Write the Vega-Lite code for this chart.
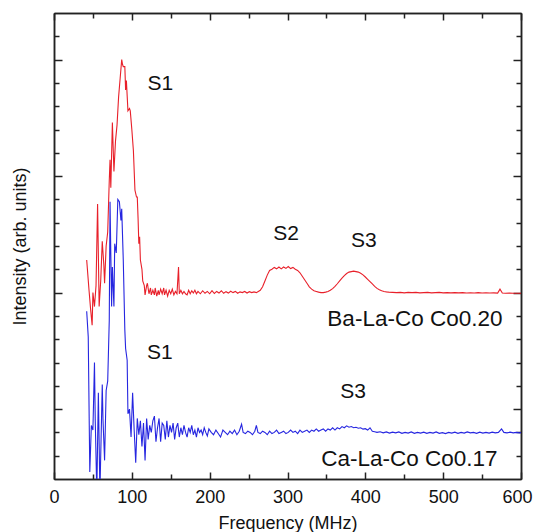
{
  "$schema": "https://vega.github.io/schema/vega-lite/v6.json",
  "width": 467,
  "height": 466,
  "autosize": "none",
  "padding": {"left": 54, "top": 13, "right": 13, "bottom": 53},
  "config": {
    "view": {"stroke": null},
    "font": "Liberation Sans",
    "axis": {
      "grid": false,
      "domainColor": "#222",
      "tickColor": "#222",
      "labelColor": "#111",
      "titleColor": "#111",
      "labelFont": "Liberation Sans",
      "titleFont": "Liberation Sans",
      "titleFontWeight": "normal",
      "labelFontSize": 18,
      "titleFontSize": 18,
      "domainWidth": 1.5,
      "tickWidth": 1.5
    }
  },
  "datasets": {
    "red": [
      {"f":42,"v":6.4},{"f":45,"v":5.1},{"f":47,"v":4.3},{"f":49,"v":3.6},{"f":50,"v":5.0},{"f":52,"v":4.4},{"f":54,"v":5.3},{"f":56,"v":8.8},{"f":58,"v":4.4},{"f":60,"v":5.5},{"f":62,"v":7.2},{"f":64,"v":6.2},{"f":65,"v":5.4},{"f":67,"v":7.0},{"f":69,"v":7.6},{"f":71,"v":9.8},{"f":72,"v":10.7},{"f":73,"v":9.5},{"f":75,"v":12.3},{"f":77,"v":10.2},{"f":79,"v":11.5},{"f":81,"v":12.2},{"f":83,"v":13.4},{"f":85,"v":14.2},{"f":87,"v":15.0},{"f":88,"v":14.8},{"f":89,"v":14.7},{"f":91,"v":14.7},{"f":92,"v":13.7},{"f":93,"v":14.1},{"f":95,"v":12.8},{"f":97,"v":12.9},{"f":98,"v":12.8},{"f":100,"v":12.0},{"f":102,"v":11.1},{"f":104,"v":9.4},{"f":106,"v":9.1},{"f":107,"v":9.1},{"f":108,"v":8.2},{"f":109,"v":7.1},{"f":110,"v":7.4},{"f":111,"v":6.4},{"f":113,"v":6.0},{"f":114,"v":5.5},{"f":116,"v":5.3},{"f":117,"v":4.9},{"f":119,"v":5.3},{"f":120,"v":5.4},{"f":122,"v":4.95},{"f":124,"v":5.2},{"f":125,"v":4.9},{"f":127,"v":5.1},{"f":129,"v":4.9},{"f":130,"v":5.2},{"f":132,"v":4.85},{"f":134,"v":5.1},{"f":135,"v":4.9},{"f":137,"v":5.15},{"f":139,"v":4.95},{"f":141,"v":5.2},{"f":142,"v":4.9},{"f":144,"v":5.1},{"f":146,"v":4.85},{"f":148,"v":5.1},{"f":150,"v":4.95},{"f":152,"v":5.15},{"f":154,"v":4.9},{"f":156,"v":5.05},{"f":158,"v":4.95},{"f":160,"v":6.1},{"f":161,"v":4.95},{"f":163,"v":5.1},{"f":165,"v":4.95},{"f":167,"v":5.05},{"f":169,"v":4.95},{"f":171,"v":4.9},{"f":173,"v":5.1},{"f":175,"v":4.95},{"f":177,"v":5.08},{"f":179,"v":4.98},{"f":181,"v":5.1},{"f":183,"v":4.95},{"f":185,"v":5.05},{"f":188,"v":4.95},{"f":191,"v":5.08},{"f":194,"v":4.97},{"f":197,"v":5.05},{"f":200,"v":4.95},{"f":203,"v":5.08},{"f":206,"v":4.96},{"f":209,"v":5.05},{"f":212,"v":4.98},{"f":215,"v":5.08},{"f":218,"v":4.97},{"f":221,"v":5.04},{"f":224,"v":4.98},{"f":227,"v":5.06},{"f":230,"v":5.0},{"f":233,"v":5.05},{"f":236,"v":4.97},{"f":239,"v":5.03},{"f":242,"v":5.0},{"f":245,"v":5.05},{"f":248,"v":4.98},{"f":251,"v":5.04},{"f":254,"v":5.0},{"f":257,"v":5.03},{"f":260,"v":5.0},{"f":263,"v":5.06},{"f":265,"v":5.1},{"f":268,"v":5.25},{"f":271,"v":5.5},{"f":274,"v":5.75},{"f":277,"v":5.95},{"f":280,"v":6.0},{"f":283,"v":6.08},{"f":286,"v":6.02},{"f":289,"v":6.1},{"f":292,"v":6.02},{"f":295,"v":6.1},{"f":298,"v":6.04},{"f":301,"v":6.12},{"f":304,"v":6.03},{"f":307,"v":6.08},{"f":310,"v":6.0},{"f":313,"v":5.95},{"f":316,"v":5.85},{"f":319,"v":5.7},{"f":322,"v":5.55},{"f":325,"v":5.4},{"f":328,"v":5.25},{"f":331,"v":5.15},{"f":334,"v":5.08},{"f":337,"v":5.05},{"f":340,"v":5.02},{"f":343,"v":5.0},{"f":346,"v":5.0},{"f":349,"v":5.02},{"f":352,"v":5.05},{"f":355,"v":5.1},{"f":358,"v":5.17},{"f":361,"v":5.27},{"f":364,"v":5.38},{"f":367,"v":5.5},{"f":370,"v":5.62},{"f":373,"v":5.73},{"f":376,"v":5.82},{"f":379,"v":5.88},{"f":382,"v":5.9},{"f":385,"v":5.92},{"f":388,"v":5.9},{"f":391,"v":5.88},{"f":394,"v":5.83},{"f":397,"v":5.76},{"f":400,"v":5.67},{"f":403,"v":5.57},{"f":406,"v":5.47},{"f":409,"v":5.37},{"f":412,"v":5.27},{"f":415,"v":5.18},{"f":418,"v":5.12},{"f":421,"v":5.08},{"f":424,"v":5.05},{"f":427,"v":5.03},{"f":430,"v":5.02},{"f":435,"v":5.01},{"f":440,"v":5.0},{"f":445,"v":5.01},{"f":450,"v":4.99},{"f":455,"v":5.01},{"f":460,"v":5.0},{"f":465,"v":5.01},{"f":470,"v":4.99},{"f":475,"v":5.0},{"f":480,"v":5.01},{"f":485,"v":4.99},{"f":490,"v":5.0},{"f":495,"v":5.01},{"f":500,"v":4.99},{"f":505,"v":5.0},{"f":510,"v":4.99},{"f":515,"v":5.0},{"f":520,"v":4.99},{"f":525,"v":5.0},{"f":530,"v":4.98},{"f":535,"v":4.99},{"f":540,"v":4.98},{"f":545,"v":5.0},{"f":550,"v":4.98},{"f":555,"v":4.99},{"f":560,"v":4.98},{"f":565,"v":4.99},{"f":570,"v":4.98},{"f":573,"v":5.15},{"f":576,"v":4.98},{"f":580,"v":4.97},{"f":585,"v":4.98},{"f":590,"v":4.97},{"f":595,"v":4.97},{"f":600,"v":4.97}
    ],
    "blue": [
      {"f":42,"v":4.2},{"f":44,"v":3.1},{"f":46,"v":-2.7},{"f":48,"v":-0.7},{"f":50,"v":-0.9},{"f":52,"v":2.0},{"f":53,"v":-0.5},{"f":55,"v":-3.6},{"f":57,"v":0.7},{"f":59,"v":-3.6},{"f":62,"v":1.05},{"f":63,"v":-0.5},{"f":65,"v":-2.2},{"f":67,"v":0.8},{"f":69,"v":1.2},{"f":71,"v":3.8},{"f":72,"v":8.9},{"f":74,"v":4.4},{"f":75,"v":6.1},{"f":77,"v":4.4},{"f":78,"v":7.1},{"f":80,"v":6.7},{"f":82,"v":9.0},{"f":84,"v":8.9},{"f":86,"v":8.1},{"f":87,"v":8.6},{"f":89,"v":6.4},{"f":91,"v":3.4},{"f":92,"v":2.6},{"f":94,"v":2.1},{"f":95,"v":-0.2},{"f":97,"v":0.0},{"f":99,"v":-1.2},{"f":101,"v":0.7},{"f":103,"v":-0.9},{"f":105,"v":-2.3},{"f":107,"v":-0.4},{"f":109,"v":-1.1},{"f":111,"v":-0.5},{"f":113,"v":-1.6},{"f":115,"v":-0.6},{"f":117,"v":-2.2},{"f":119,"v":-0.4},{"f":121,"v":-1.3},{"f":123,"v":-0.7},{"f":125,"v":-1.0},{"f":127,"v":-0.5},{"f":129,"v":-0.3},{"f":131,"v":-1.4},{"f":133,"v":-0.8},{"f":135,"v":-0.4},{"f":137,"v":-1.4},{"f":139,"v":-0.6},{"f":141,"v":-0.7},{"f":143,"v":-1.3},{"f":145,"v":-0.5},{"f":147,"v":-1.2},{"f":149,"v":-0.7},{"f":151,"v":-1.0},{"f":153,"v":-0.6},{"f":155,"v":-1.3},{"f":157,"v":-0.8},{"f":159,"v":-0.6},{"f":161,"v":-1.2},{"f":163,"v":-0.8},{"f":165,"v":-1.1},{"f":167,"v":-0.7},{"f":169,"v":-1.0},{"f":171,"v":-1.2},{"f":173,"v":-0.8},{"f":175,"v":-1.0},{"f":177,"v":-0.7},{"f":179,"v":-1.1},{"f":181,"v":-0.9},{"f":183,"v":-1.2},{"f":185,"v":-0.8},{"f":187,"v":-1.0},{"f":189,"v":-0.9},{"f":191,"v":-1.1},{"f":193,"v":-0.8},{"f":195,"v":-1.0},{"f":197,"v":-1.15},{"f":199,"v":-0.85},{"f":202,"v":-1.0},{"f":205,"v":-1.1},{"f":208,"v":-0.9},{"f":211,"v":-1.05},{"f":214,"v":-1.2},{"f":217,"v":-0.9},{"f":220,"v":-1.0},{"f":223,"v":-1.1},{"f":226,"v":-0.95},{"f":229,"v":-1.05},{"f":232,"v":-0.9},{"f":235,"v":-1.1},{"f":238,"v":-0.95},{"f":241,"v":-0.65},{"f":243,"v":-1.0},{"f":246,"v":-1.05},{"f":249,"v":-0.95},{"f":252,"v":-1.0},{"f":255,"v":-1.1},{"f":258,"v":-0.95},{"f":260,"v":-0.7},{"f":262,"v":-1.0},{"f":265,"v":-1.05},{"f":268,"v":-0.95},{"f":271,"v":-1.0},{"f":274,"v":-1.1},{"f":277,"v":-0.95},{"f":280,"v":-1.05},{"f":283,"v":-1.0},{"f":286,"v":-0.9},{"f":289,"v":-1.05},{"f":292,"v":-1.0},{"f":295,"v":-0.95},{"f":298,"v":-1.05},{"f":301,"v":-1.0},{"f":304,"v":-0.9},{"f":307,"v":-1.0},{"f":310,"v":-0.95},{"f":313,"v":-1.05},{"f":316,"v":-0.9},{"f":319,"v":-1.0},{"f":322,"v":-0.95},{"f":325,"v":-0.9},{"f":328,"v":-1.0},{"f":331,"v":-0.9},{"f":334,"v":-0.95},{"f":337,"v":-0.85},{"f":340,"v":-0.95},{"f":343,"v":-0.9},{"f":346,"v":-0.85},{"f":349,"v":-0.95},{"f":352,"v":-0.85},{"f":355,"v":-0.9},{"f":358,"v":-0.8},{"f":361,"v":-0.9},{"f":364,"v":-0.8},{"f":367,"v":-0.85},{"f":370,"v":-0.75},{"f":373,"v":-0.8},{"f":376,"v":-0.72},{"f":379,"v":-0.78},{"f":382,"v":-0.75},{"f":385,"v":-0.8},{"f":388,"v":-0.78},{"f":391,"v":-0.82},{"f":394,"v":-0.8},{"f":397,"v":-0.86},{"f":400,"v":-0.84},{"f":403,"v":-0.9},{"f":406,"v":-0.8},{"f":409,"v":-0.95},{"f":412,"v":-0.97},{"f":415,"v":-1.0},{"f":419,"v":-0.97},{"f":423,"v":-1.02},{"f":427,"v":-0.98},{"f":431,"v":-1.03},{"f":435,"v":-0.99},{"f":439,"v":-1.02},{"f":443,"v":-0.98},{"f":447,"v":-1.04},{"f":451,"v":-1.0},{"f":455,"v":-1.03},{"f":459,"v":-0.98},{"f":463,"v":-1.04},{"f":467,"v":-1.0},{"f":471,"v":-1.03},{"f":475,"v":-0.99},{"f":479,"v":-1.04},{"f":483,"v":-1.0},{"f":487,"v":-1.03},{"f":491,"v":-0.98},{"f":495,"v":-1.04},{"f":499,"v":-1.01},{"f":503,"v":-1.05},{"f":507,"v":-1.0},{"f":511,"v":-1.03},{"f":515,"v":-0.99},{"f":519,"v":-1.04},{"f":523,"v":-1.0},{"f":527,"v":-1.03},{"f":531,"v":-0.98},{"f":535,"v":-1.02},{"f":539,"v":-1.0},{"f":543,"v":-1.04},{"f":547,"v":-0.99},{"f":551,"v":-1.03},{"f":555,"v":-1.0},{"f":559,"v":-1.03},{"f":563,"v":-0.99},{"f":567,"v":-1.02},{"f":571,"v":-1.0},{"f":575,"v":-0.85},{"f":578,"v":-1.0},{"f":582,"v":-1.02},{"f":586,"v":-0.99},{"f":590,"v":-1.02},{"f":594,"v":-1.0},{"f":598,"v":-1.02},{"f":600,"v":-1.01}
    ],
    "labelsRed": [
      {"f":136.5,"v":13.94,"t":"S1","s":21},
      {"f":298.3,"v":7.53,"t":"S2","s":21},
      {"f":398.2,"v":7.21,"t":"S3","s":21},
      {"f":463.7,"v":3.88,"t":"Ba-La-Co Co0.20","s":22.5}
    ],
    "labelsBlue": [
      {"f":135.9,"v":2.42,"t":"S1","s":21},
      {"f":384.4,"v":0.73,"t":"S3","s":21},
      {"f":456.7,"v":-2.13,"t":"Ca-La-Co Co0.17","s":22.5}
    ]
  },
  "layer": [
    {
      "data": {"name": "red"},
      "mark": {"type": "line", "color": "#e8202a", "strokeWidth": 1.1, "clip": true},
      "encoding": {
        "x": {"field": "f", "type": "quantitative",
          "scale": {"domain": [0, 600], "nice": false, "zero": false},
          "axis": {"orient": "bottom", "values": [0,100,200,300,400,500,600], "tickSize": -7, "labelPadding": 16, "labelFlush": false,
            "labelOffset": {"condition": {"test": "datum.value == 600", "value": -4}, "value": 0},
            "title": "Frequency (MHz)", "titlePadding": 8}},
        "y": {"field": "v", "type": "quantitative",
          "scale": {"domain": [-3, 17], "nice": false, "zero": false},
          "axis": {"orient": "left", "values": [0,5,10,15], "tickSize": -8, "labels": false, "title": "Intensity (arb. units)", "titlePadding": 24}}
      }
    },
    {
      "data": {"name": "blue"},
      "mark": {"type": "line", "color": "#2626e0", "strokeWidth": 1.1, "clip": true},
      "encoding": {
        "x": {"field": "f", "type": "quantitative",
          "scale": {"domain": [0, 600], "nice": false, "zero": false},
          "axis": {"orient": "bottom", "values": [50,150,250,350,450,550], "tickSize": -5, "labels": false, "title": null}},
        "y": {"field": "v", "type": "quantitative",
          "scale": {"domain": [-3, 17], "nice": false, "zero": false},
          "axis": {"orient": "left", "values": [-2,-1,1,2,3,4,6,7,8,9,11,12,13,14,16], "tickSize": -5, "labels": false, "title": null}}
      }
    },
    {
      "data": {"name": "labelsRed"},
      "mark": {"type": "text", "font": "Liberation Sans", "color": "#111", "align": "center", "baseline": "middle"},
      "encoding": {
        "x": {"field": "f", "type": "quantitative",
          "scale": {"domain": [0, 600], "nice": false, "zero": false},
          "axis": {"orient": "top", "values": [0,100,200,300,400,500,600], "tickSize": -7, "labels": false, "title": null}},
        "y": {"field": "v", "type": "quantitative",
          "scale": {"domain": [-3, 17], "nice": false, "zero": false},
          "axis": {"orient": "right", "values": [0,5,10,15], "tickSize": -8, "labels": false, "title": null}},
        "text": {"field": "t"},
        "size": {"field": "s", "type": "quantitative", "scale": null}
      }
    },
    {
      "data": {"name": "labelsBlue"},
      "mark": {"type": "text", "font": "Liberation Sans", "color": "#111", "align": "center", "baseline": "middle"},
      "encoding": {
        "x": {"field": "f", "type": "quantitative",
          "scale": {"domain": [0, 600], "nice": false, "zero": false},
          "axis": {"orient": "top", "values": [50,150,250,350,450,550], "tickSize": -5, "labels": false, "title": null}},
        "y": {"field": "v", "type": "quantitative",
          "scale": {"domain": [-3, 17], "nice": false, "zero": false},
          "axis": {"orient": "right", "values": [-2,-1,1,2,3,4,6,7,8,9,11,12,13,14,16], "tickSize": -5, "labels": false, "title": null}},
        "text": {"field": "t"},
        "size": {"field": "s", "type": "quantitative", "scale": null}
      }
    }
  ],
  "resolve": {"axis": {"x": "independent", "y": "independent"}}
}
